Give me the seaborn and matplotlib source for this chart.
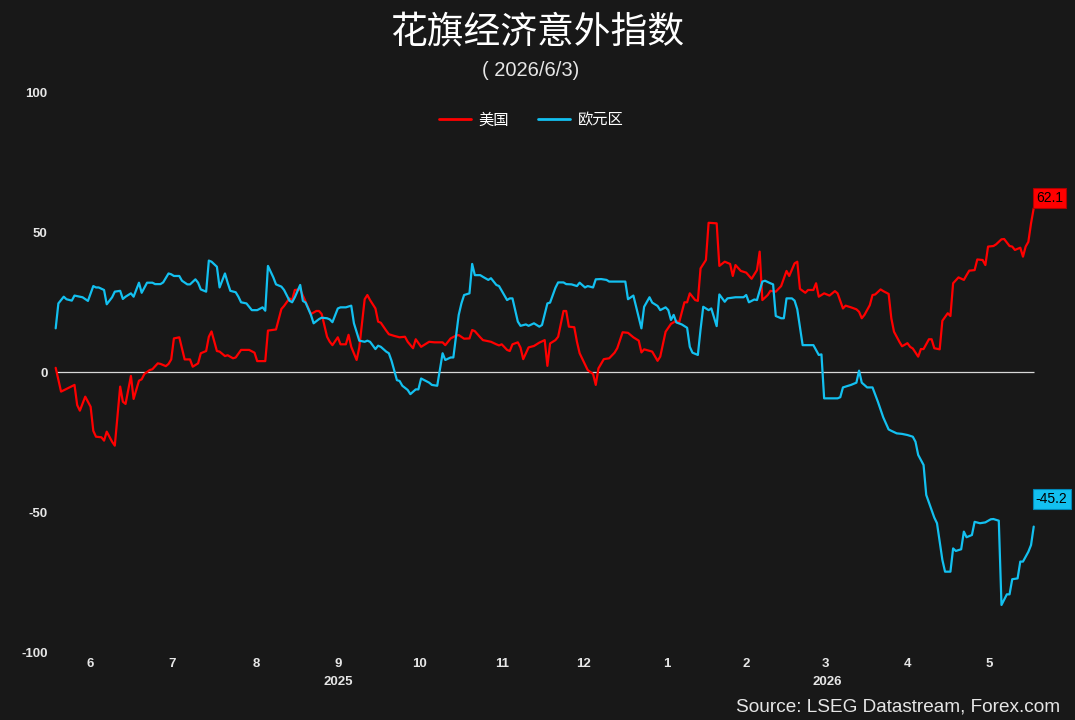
import matplotlib
matplotlib.use("Agg")
import matplotlib.pyplot as plt
import matplotlib.transforms as mtransforms
import numpy as np
import pandas as pd
import seaborn as sns

# ---------------- data ----------------
start_date = "2025-06-02"          # day 0 of the series
title_text = "花旗经济意外指数"
subtitle_text = "( 2026/6/3)"
source_text = "Source: LSEG Datastream, Forex.com"
series_names = ["美国", "欧元区"]
last_labels = [62.1, -45.2]
month_labels = ["6", "7", "8", "9", "10", "11", "12", "1", "2", "3", "4", "5"]
month_starts = ["2025-06-01", "2025-07-01", "2025-08-01", "2025-09-01", "2025-10-01",
                "2025-11-01", "2025-12-01", "2026-01-01", "2026-02-01", "2026-03-01",
                "2026-04-01", "2026-05-01", "2026-06-01"]
year_labels = ["2025", "2026"]
year_label_dates = ["2025-09-15", "2026-03-16"]
y_ticks = [-100, -50, 0, 50, 100]

us_days = [0, 2, 7, 8, 9, 11, 13, 14, 15, 17,
           18, 19, 21, 22, 24, 25, 26, 28, 29, 31,
           32, 33, 35, 36, 38, 39, 41, 42, 43, 44,
           46, 47, 48, 50, 51, 53, 54, 56, 57, 58,
           60, 61, 63, 64, 66, 67, 69, 72, 74, 75,
           78, 79, 82, 84, 85, 87, 88, 89, 91, 93,
           95, 97, 98, 99, 101, 102, 103, 105, 106, 108,
           109, 110, 112, 113, 115, 116, 117, 119, 120, 121,
           123, 124, 126, 128, 130, 131, 133, 134, 136, 137,
           139, 141, 144, 145, 147, 149, 150, 152, 154, 155,
           156, 158, 159, 162, 164, 165, 166, 168, 169, 170,
           172, 173, 174, 176, 178, 180, 182, 183, 184, 186,
           187, 189, 190, 191, 193, 194, 195, 197, 198, 200,
           201, 202, 204, 206, 208, 209, 211, 213, 215, 217,
           218, 219, 222, 224, 225, 227, 229, 231, 232, 234,
           235, 236, 238, 239, 240, 242, 243, 246, 247, 249,
           251, 252, 253, 255, 257, 259, 261, 262, 263, 265,
           266, 268, 270, 272, 273, 275, 276, 277, 279, 280,
           282, 283, 284, 286, 288, 290, 291, 293, 294, 296,
           298, 299, 300, 301, 303, 304, 305, 307, 308, 310,
           311, 312, 314, 315, 317, 318, 319, 321, 322, 323,
           325, 326, 327, 329, 330, 332, 333, 334, 336, 338,
           339, 340, 342, 343, 345, 346, 347, 349, 350, 352,
           353, 355, 356, 357, 359, 360, 361, 362, 363, 364]
us_vals = [1.5, -7.0, -4.6, -11.8, -13.8, -8.8, -12.4, -21.0, -23.1, -23.3,
           -24.5, -21.3, -24.9, -26.3, -5.2, -10.6, -11.4, -1.4, -9.6, -3.1,
           -2.6, -0.7, 0.7, 1.0, 3.1, 2.9, 2.1, 2.9, 4.5, 12.0,
           12.4, 8.5, 4.5, 4.5, 1.9, 3.1, 6.7, 7.5, 12.6, 14.5,
           7.5, 7.3, 5.7, 6.0, 4.9, 5.2, 7.9, 7.9, 6.9, 3.9,
           3.9, 14.8, 15.2, 22.5, 23.6, 26.3, 25.7, 29.3, 29.5, 25.1,
           20.7, 21.8, 21.8, 20.7, 12.6, 10.8, 9.6, 12.4, 9.9, 9.9,
           13.3, 9.0, 4.3, 8.8, 26.0, 27.5, 25.7, 22.7, 18.0, 17.6,
           14.8, 13.5, 12.9, 12.4, 12.6, 10.8, 8.5, 11.7, 9.0, 9.6,
           10.8, 10.6, 10.6, 9.6, 12.0, 13.0, 13.2, 11.9, 12.0, 15.0,
           14.6, 12.4, 11.4, 10.8, 9.9, 9.5, 9.9, 7.9, 7.5, 9.9,
           10.6, 8.7, 4.6, 8.8, 9.3, 10.5, 11.4, 2.2, 10.2, 11.4,
           12.6, 21.8, 21.8, 16.2, 16.0, 10.8, 6.7, 2.7, 0.7, -0.7,
           -4.6, 1.3, 4.6, 4.9, 6.9, 8.5, 14.2, 14.0, 12.4, 11.2,
           7.0, 8.1, 7.3, 4.0, 5.5, 14.4, 17.2, 18.3, 17.6, 24.9,
           24.9, 28.1, 25.7, 25.4, 37.0, 40.0, 53.3, 53.1, 37.9, 39.4,
           38.6, 34.3, 38.2, 36.1, 35.5, 33.3, 36.4, 43.0, 25.7, 27.5,
           29.0, 28.7, 30.7, 36.1, 34.3, 38.8, 39.4, 29.7, 28.3, 29.3,
           29.3, 31.7, 26.9, 28.1, 27.3, 28.9, 28.1, 22.7, 23.7, 23.1,
           22.4, 21.5, 19.2, 20.4, 23.9, 27.5, 27.7, 29.5, 28.9, 27.9,
           19.2, 14.4, 10.8, 9.2, 10.3, 9.0, 8.4, 5.5, 8.2, 8.2,
           11.7, 11.7, 8.5, 8.1, 18.3, 21.0, 20.0, 31.7, 33.8, 32.9,
           34.6, 36.2, 36.4, 40.2, 40.0, 38.2, 44.8, 45.0, 45.6, 47.4,
           47.5, 45.0, 44.8, 43.6, 44.4, 41.2, 44.8, 46.5, 53.1, 58.5]

ez_days = [0, 1, 3, 4, 6, 7, 9, 10, 12, 14,
           15, 16, 18, 19, 21, 22, 24, 25, 26, 28,
           29, 31, 32, 34, 36, 37, 39, 40, 42, 43,
           44, 46, 47, 49, 50, 52, 53, 54, 56, 57,
           58, 60, 61, 63, 64, 65, 67, 68, 69, 71,
           73, 75, 77, 78, 79, 81, 82, 84, 85, 87,
           88, 89, 91, 92, 93, 95, 96, 98, 99, 101,
           102, 103, 105, 106, 108, 110, 111, 113, 115, 116,
           117, 119, 120, 121, 123, 124, 125, 127, 128, 129,
           131, 132, 134, 135, 136, 139, 140, 142, 144, 145,
           147, 148, 150, 151, 152, 154, 155, 156, 158, 159,
           161, 162, 164, 165, 168, 169, 170, 172, 173, 175,
           176, 178, 180, 181, 183, 184, 186, 187, 189, 190,
           192, 194, 195, 197, 198, 200, 201, 203, 205, 206,
           212, 213, 215, 218, 219, 221, 222, 224, 225, 227,
           228, 229, 230, 231, 233, 235, 236, 237, 239, 240,
           241, 243, 244, 246, 247, 249, 250, 253, 256, 257,
           258, 260, 261, 263, 264, 266, 267, 268, 270, 271,
           272, 274, 275, 276, 278, 282, 284, 285, 286, 291,
           292, 293, 296, 298, 299, 300, 302, 304, 306, 308,
           310, 311, 313, 315, 317, 319, 320, 321, 323, 324,
           326, 327, 328, 330, 331, 333, 334, 335, 337, 338,
           339, 341, 342, 344, 346, 348, 349, 351, 352, 354,
           355, 356, 358, 359, 360, 362, 363, 364]
ez_vals = [15.6, 24.5, 26.9, 26.0, 25.5, 27.3, 26.9, 26.7, 25.4, 30.7,
           30.2, 30.2, 29.3, 24.2, 26.7, 28.7, 29.0, 26.1, 26.9, 28.1,
           26.9, 31.9, 28.3, 31.9, 31.9, 31.4, 31.4, 32.0, 35.2, 34.9,
           34.3, 34.3, 32.6, 31.3, 31.3, 33.1, 31.9, 29.5, 28.7, 39.8,
           39.4, 37.6, 30.2, 35.2, 31.9, 29.0, 28.5, 26.9, 24.9, 24.5,
           22.1, 22.1, 23.1, 21.9, 37.9, 33.8, 31.3, 30.5, 29.3, 25.5,
           24.9, 26.7, 31.1, 25.4, 24.8, 20.4, 17.4, 18.9, 19.4, 19.2,
           18.8, 17.8, 22.7, 23.1, 23.1, 23.7, 17.4, 11.2, 10.8, 11.2,
           10.8, 8.2, 9.4, 9.0, 7.3, 6.7, 4.0, -2.9, -3.2, -4.9,
           -6.4, -7.9, -6.2, -6.2, -2.3, -3.8, -4.6, -4.9, 6.7, 4.3,
           5.2, 5.2, 20.4, 24.5, 27.5, 28.1, 38.6, 34.6, 34.6, 34.0,
           32.9, 33.5, 31.1, 30.7, 25.7, 26.3, 26.3, 18.0, 16.5, 17.0,
           16.5, 17.4, 16.2, 16.8, 24.5, 24.8, 30.1, 32.0, 32.0, 31.4,
           31.3, 30.7, 31.9, 30.2, 30.7, 30.2, 33.1, 33.2, 32.9, 32.3,
           32.3, 26.0, 27.3, 15.6, 23.3, 26.7, 24.8, 23.6, 22.1, 23.1,
           22.1, 18.6, 20.4, 17.7, 17.0, 15.8, 9.0, 6.9, 6.1, 15.2,
           23.3, 22.1, 22.7, 16.4, 27.7, 25.1, 26.3, 26.7, 26.7, 27.5,
           24.9, 25.9, 25.7, 32.3, 32.6, 31.7, 31.3, 20.0, 19.2, 19.2,
           26.3, 26.3, 25.5, 22.4, 9.6, 9.6, 6.1, 6.3, -9.4, -9.4,
           -9.0, -5.5, -4.6, -3.8, 0.5, -3.8, -5.5, -5.5, -10.6, -16.2,
           -20.5, -21.0, -21.9, -22.1, -22.5, -23.1, -24.9, -29.6, -33.2, -43.9,
           -49.3, -52.0, -54.0, -67.1, -71.3, -71.3, -63.0, -63.9, -63.3, -57.0,
           -59.0, -58.2, -53.5, -54.0, -53.7, -52.6, -52.5, -53.1, -83.2, -79.4,
           -79.4, -74.0, -73.7, -67.7, -67.7, -64.2, -61.8, -55.2]

# ---------------- styling ----------------
BG = "#181818"
RED = "#ff0000"
CYAN = "#13c0f0"
TXT = "#e6e6e6"
CJK = ["Noto Sans CJK SC", "DejaVu Sans"]
LAT = ["Liberation Sans", "DejaVu Sans"]

sns.set_theme(style="dark")
plt.rcParams["font.family"] = LAT
plt.rcParams["axes.unicode_minus"] = False

t0 = pd.Timestamp(start_date)
df = pd.concat([
    pd.DataFrame({"date": t0 + pd.to_timedelta(us_days, unit="D"), "value": us_vals, "series": series_names[0]}),
    pd.DataFrame({"date": t0 + pd.to_timedelta(ez_days, unit="D"), "value": ez_vals, "series": series_names[1]}),
], ignore_index=True)
palette = {series_names[0]: RED, series_names[1]: CYAN}

fig = plt.figure(figsize=(10.75, 7.2), dpi=100, facecolor=BG)
ax = fig.add_axes([0.0468, 0.0944, 0.9223, 0.7778])
ax.set_facecolor(BG)

# zero line across the data range
ax.hlines(0, df["date"].min(), df["date"].max(), color="#d8d8d8", lw=0.9, zorder=1)

sns.lineplot(data=df, x="date", y="value", hue="series", palette=palette,
             hue_order=series_names, estimator=None, sort=False, linewidth=1.6,
             ax=ax, zorder=3)

ax.set_xlim(t0 - pd.Timedelta(days=2), t0 + pd.Timedelta(days=367))
ax.set_ylim(min(y_ticks), max(y_ticks))
ax.set_xlabel("")
ax.set_ylabel("")
for s in ax.spines.values():
    s.set_visible(False)
ax.grid(False)

TICK_FS = 9.5
ax.set_yticks(y_ticks)
ax.set_yticklabels([str(v) for v in y_ticks], fontsize=TICK_FS, fontweight="bold", color=TXT)
ax.tick_params(axis="y", length=0, pad=2)

ms = pd.to_datetime(month_starts)
mids = [ms[i] + (ms[i + 1] - ms[i]) / 2 - pd.Timedelta(days=1) for i in range(len(ms) - 1)]
ax.set_xticks(mids)
ax.set_xticklabels(month_labels, fontsize=TICK_FS, fontweight="bold", color=TXT)
ax.tick_params(axis="x", length=0, pad=4)

ytrans = mtransforms.blended_transform_factory(ax.transData, fig.transFigure)
for lab, d in zip(year_labels, year_label_dates):
    ax.text(pd.Timestamp(d), 1 - 682 / 720, lab, transform=ytrans, ha="center", va="center",
            fontsize=TICK_FS, fontweight="bold", color=TXT)

# legend
handles, labels = ax.get_legend_handles_labels()
ax.legend(handles, labels, loc="center", bbox_to_anchor=(0.494, 1 - 120 / 720),
          bbox_transform=fig.transFigure, ncol=2, frameon=False,
          prop={"family": CJK, "size": 11}, labelcolor="white",
          handlelength=2.1, handletextpad=0.5, columnspacing=1.9)
for h in ax.get_legend().get_lines():
    h.set_linewidth(2)

# end-value labels
ends = [(df[df.series == n]["date"].iloc[-1], v, c, e)
        for n, v, c, e in zip(series_names, last_labels, [RED, CYAN], ["#b00000", "#0088b8"])]
for d, v, c, e in ends:
    ax.annotate(f"{v:.1f}", xy=(d, v), xytext=(1.5, 0), textcoords="offset points",
                ha="left", va="center", fontsize=10, color="#000000",
                bbox=dict(boxstyle="square,pad=0.22", fc=c, ec=e, lw=0.8),
                annotation_clip=False, zorder=5)

# titles and source
fig.text(0.4995, 1 - 32 / 720, title_text, ha="center", va="center",
         fontsize=26.5, color="white", family=CJK)
fig.text(0.494, 1 - 71 / 720, subtitle_text, ha="center", va="center",
         fontsize=14.5, color=TXT)
fig.text(1060 / 1075, 1 - 707 / 720, source_text, ha="right", va="center",
         fontsize=13.7, color=TXT)

fig.savefig("out.png", dpi=100, facecolor=BG)
